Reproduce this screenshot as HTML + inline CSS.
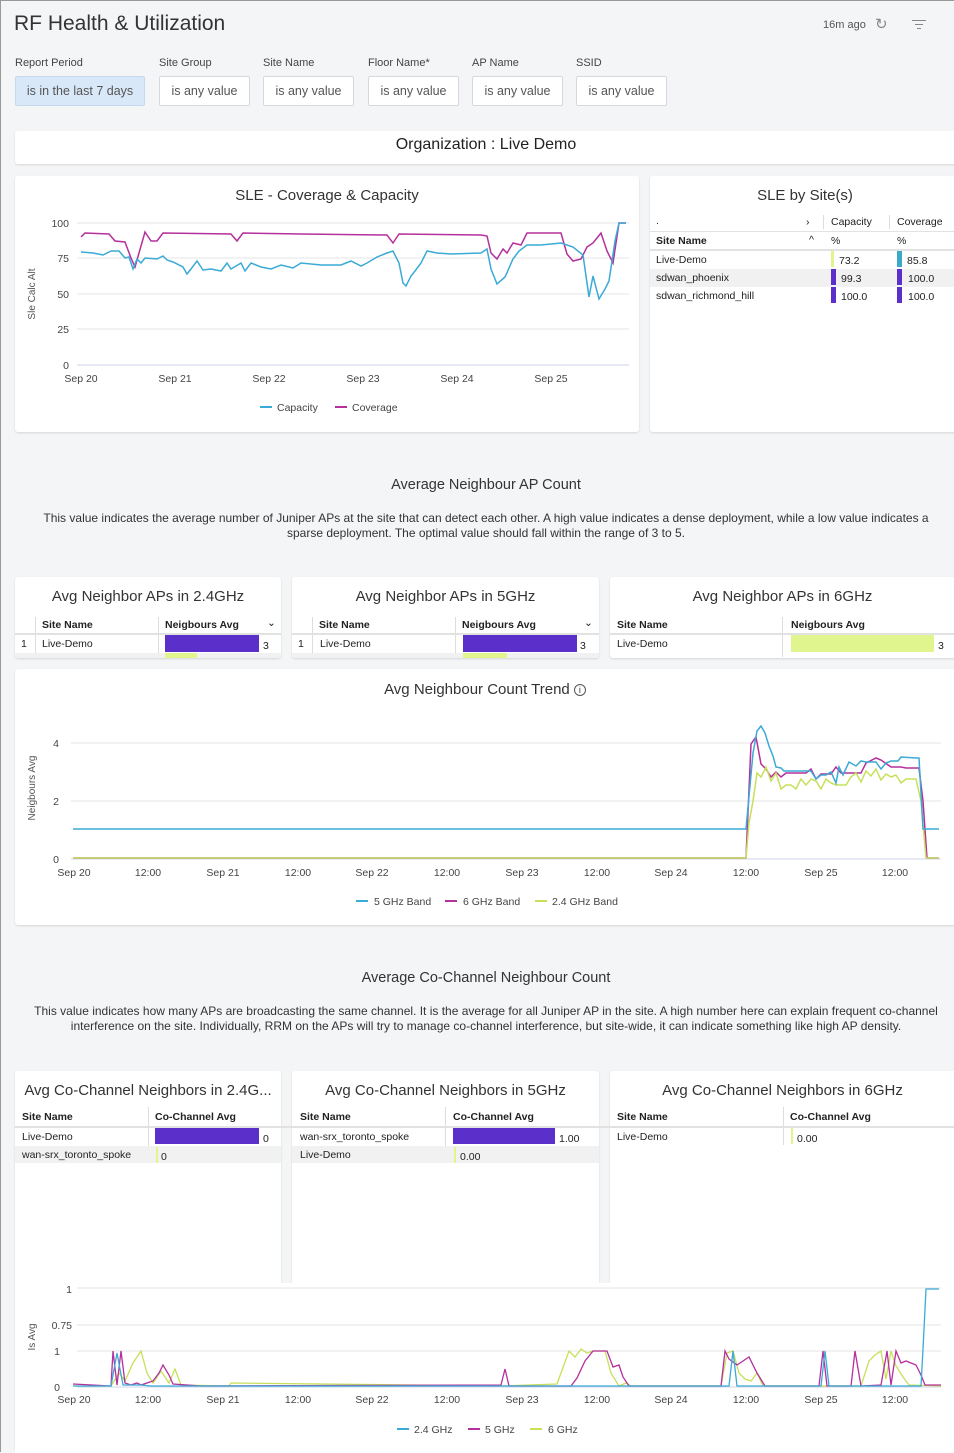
<!DOCTYPE html>
<html><head><meta charset="utf-8"><style>
*{box-sizing:border-box;margin:0;padding:0}
body{width:954px;height:1452px;background:#f4f5f6;font-family:"Liberation Sans",sans-serif;color:#333;position:relative;overflow:hidden;border-left:1px solid #999;border-top:1px solid #999}
.a{position:absolute}
.card{position:absolute;background:#fff;border-radius:3px;box-shadow:0 1px 2px rgba(0,0,0,.12)}
.lbl{position:absolute;font-size:11px;color:#444}
.box{position:absolute;top:75px;height:30px;border:1px solid #d6d8db;background:#fff;border-radius:2px;font-size:12.5px;color:#555;text-align:center;line-height:28px}
.t{position:absolute;text-align:center;font-size:15px;color:#333}
.th{font-size:10.5px;font-weight:bold;color:#222}
.td{font-size:10.5px;color:#222}
svg text{font-family:"Liberation Sans",sans-serif}
</style></head><body>
<div class="a" style="left:13px;top:11px;font-size:21px;color:#333">RF Health &amp; Utilization</div>
<div class="a" style="left:822px;top:18px;font-size:11px;color:#555">16m ago</div>
<div class="a" style="left:874px;top:14px;font-size:15px;color:#888">↻</div>
<div class="a" style="left:911px;top:19px;width:14px;border-top:1.5px solid #888"></div>
<div class="a" style="left:914px;top:23px;width:8px;border-top:1.5px solid #888"></div>
<div class="a" style="left:916px;top:27px;width:4px;border-top:1.5px solid #888"></div>

<div class="lbl" style="left:14px;top:56px">Report Period</div>
<div class="lbl" style="left:158px;top:56px">Site Group</div>
<div class="lbl" style="left:262px;top:56px">Site Name</div>
<div class="lbl" style="left:367px;top:56px">Floor Name*</div>
<div class="lbl" style="left:471px;top:56px">AP Name</div>
<div class="lbl" style="left:575px;top:56px">SSID</div>
<div class="box" style="left:14px;width:130px;background:#d9e8f8;border-color:#c6d8ec">is in the last 7 days</div>
<div class="box" style="left:158px;width:91px">is any value</div>
<div class="box" style="left:262px;width:91px">is any value</div>
<div class="box" style="left:367px;width:91px">is any value</div>
<div class="box" style="left:471px;width:91px">is any value</div>
<div class="box" style="left:575px;width:91px">is any value</div>

<div class="card" style="left:14px;top:130px;width:945px;height:33px"></div>
<div class="t" style="left:14px;top:135px;width:942px;font-size:16px;color:#222">Organization : Live Demo</div>

<!-- SLE chart -->
<div class="card" style="left:14px;top:175px;width:624px;height:256px"></div>
<div class="t" style="left:14px;top:186px;width:624px">SLE - Coverage &amp; Capacity</div>
<svg class="a" style="left:0;top:0" width="954" height="440">
<g stroke="#e6e6e6" stroke-width="1"><line x1="76" x2="628" y1="222" y2="222"/><line x1="76" x2="628" y1="257" y2="257"/><line x1="76" x2="628" y1="293" y2="293"/><line x1="76" x2="628" y1="328" y2="328"/><line x1="76" x2="628" y1="364" y2="364" stroke="#cfd6ea"/></g>
<g font-size="10.5" fill="#444" text-anchor="end"><text x="68" y="226">100</text><text x="68" y="261">75</text><text x="68" y="297">50</text><text x="68" y="332">25</text><text x="68" y="368">0</text></g>
<g font-size="10.5" fill="#444" text-anchor="middle"><text x="80" y="381">Sep 20</text><text x="174" y="381">Sep 21</text><text x="268" y="381">Sep 22</text><text x="362" y="381">Sep 23</text><text x="456" y="381">Sep 24</text><text x="550" y="381">Sep 25</text></g>
<text x="34" y="293" font-size="10" fill="#555" transform="rotate(-90 34 293)" text-anchor="middle">Sle Calc Alt</text>
<polyline fill="none" stroke="#b5309c" stroke-width="1.5" points="80,236 84,232 108,233 114,240 124,241 130,257 134,266 140,245 144,231 150,240 156,240 162,232 230,233 236,240 242,232 300,233 386,234 392,242 398,233 480,234 486,235 490,252 496,258 502,248 506,252 512,242 520,244 526,232 560,232 566,253 572,260 580,258 586,246 592,242 596,237 600,232 606,250 612,262 618,222 625,222"/>
<polyline fill="none" stroke="#3aaad6" stroke-width="1.5" points="80,251 92,252 102,254 110,250 118,250 124,257 128,256 132,268 136,258 140,262 144,257 156,258 162,255 166,259 172,261 182,266 186,273 190,268 196,260 202,269 210,268 220,270 226,262 230,268 240,262 244,270 250,262 260,266 270,268 280,264 292,267 300,262 320,264 340,264 350,260 360,265 366,262 376,256 386,252 392,250 398,262 402,282 405,285 410,275 414,270 420,262 426,250 436,252 450,253 480,252 486,248 490,268 496,283 504,276 512,258 518,250 526,244 540,244 560,242 572,246 582,254 588,296 592,275 598,298 604,288 608,280 614,240 618,222 625,222"/>
<line x1="259" x2="271" y1="406" y2="406" stroke="#3aaad6" stroke-width="2"/><text x="276" y="410" font-size="10.5" fill="#444">Capacity</text>
<line x1="334" x2="346" y1="406" y2="406" stroke="#b5309c" stroke-width="2"/><text x="351" y="410" font-size="10.5" fill="#444">Coverage</text>
</svg>

<!-- SLE by site -->
<div class="card" style="left:649px;top:175px;width:310px;height:256px"></div>
<div class="t" style="left:649px;top:186px;width:310px">SLE by Site(s)</div>
<div class="a td" style="left:655px;top:214px">.</div>
<div class="a th" style="left:805px;top:215px;font-weight:normal">›</div>
<div class="a" style="left:822px;top:214px;height:14px;border-left:1px solid #ddd"></div>
<div class="a" style="left:888px;top:214px;height:14px;border-left:1px solid #ddd"></div>
<div class="a td" style="left:830px;top:215px">Capacity</div>
<div class="a td" style="left:896px;top:215px">Coverage</div>
<div class="a" style="left:649px;top:230px;width:305px;border-top:1px solid #e2e2e2"></div>
<div class="a th" style="left:655px;top:234px">Site Name</div>
<div class="a td" style="left:808px;top:233px">^</div>
<div class="a td" style="left:830px;top:234px">%</div>
<div class="a td" style="left:896px;top:234px">%</div>
<div class="a" style="left:649px;top:248px;width:305px;border-top:2px solid #e2e2e2"></div>
<div class="a" style="left:649px;top:268px;width:305px;height:18px;background:#f1f1f1"></div>
<div class="a td" style="left:655px;top:253px">Live-Demo</div>
<div class="a td" style="left:655px;top:271px">sdwan_phoenix</div>
<div class="a td" style="left:655px;top:289px">sdwan_richmond_hill</div>
<div class="a" style="left:830px;top:250px;width:3px;height:16px;background:#e1f58e"></div><div class="a td" style="left:838px;top:254px">73.2</div>
<div class="a" style="left:830px;top:268px;width:5px;height:16px;background:#5b2fc9"></div><div class="a td" style="left:840px;top:272px">99.3</div>
<div class="a" style="left:830px;top:286px;width:5px;height:16px;background:#5b2fc9"></div><div class="a td" style="left:840px;top:290px">100.0</div>
<div class="a" style="left:896px;top:250px;width:5px;height:16px;background:#3aaac6"></div><div class="a td" style="left:906px;top:254px">85.8</div>
<div class="a" style="left:896px;top:268px;width:5px;height:16px;background:#5b2fc9"></div><div class="a td" style="left:907px;top:272px">100.0</div>
<div class="a" style="left:896px;top:286px;width:5px;height:16px;background:#5b2fc9"></div><div class="a td" style="left:907px;top:290px">100.0</div>

<div class="t" style="left:14px;top:476px;width:942px;font-size:14.5px">Average Neighbour AP Count</div>
<div class="t" style="left:30px;top:510px;width:910px;font-size:12px;line-height:14.5px">This value indicates the average number of Juniper APs at the site that can detect each other. A high value indicates a dense deployment, while a low value indicates a sparse deployment. The optimal value should fall within the range of 3 to 5.</div>

<!-- neighbor cards -->
<div class="card" style="left:14px;top:576px;width:266px;height:81px;overflow:hidden">
 <div class="t" style="left:0;top:11px;width:266px">Avg Neighbor APs in 2.4GHz</div>
 <div class="a" style="left:20px;top:40px;height:40px;border-left:1px solid #ddd"></div>
 <div class="a" style="left:143px;top:40px;height:40px;border-left:1px solid #ddd"></div>
 <div class="a th" style="left:27px;top:42px">Site Name</div><div class="a th" style="left:150px;top:42px">Neigbours Avg</div><div class="a td" style="left:252px;top:40px">⌄</div>
 <div class="a" style="left:0;top:56px;width:266px;border-top:2px solid #e2e2e2"></div>
 <div class="a td" style="left:6px;top:61px">1</div><div class="a td" style="left:27px;top:61px">Live-Demo</div>
 <div class="a" style="left:150px;top:58px;width:94px;height:17px;background:#5b2fc9"></div><div class="a td" style="left:248px;top:63px">3</div>
 <div class="a" style="left:0;top:76px;width:266px;height:6px;background:#f1f1f1"></div>
 <div class="a" style="left:150px;top:76px;width:32px;height:6px;background:#e1f58e"></div>
</div>
<div class="card" style="left:291px;top:576px;width:307px;height:81px;overflow:hidden">
 <div class="t" style="left:0;top:11px;width:307px">Avg Neighbor APs in 5GHz</div>
 <div class="a" style="left:20px;top:40px;height:40px;border-left:1px solid #ddd"></div>
 <div class="a" style="left:163px;top:40px;height:40px;border-left:1px solid #ddd"></div>
 <div class="a th" style="left:27px;top:42px">Site Name</div><div class="a th" style="left:170px;top:42px">Neigbours Avg</div><div class="a td" style="left:292px;top:40px">⌄</div>
 <div class="a" style="left:0;top:56px;width:307px;border-top:2px solid #e2e2e2"></div>
 <div class="a td" style="left:6px;top:61px">1</div><div class="a td" style="left:28px;top:61px">Live-Demo</div>
 <div class="a" style="left:171px;top:58px;width:114px;height:17px;background:#5b2fc9"></div><div class="a td" style="left:288px;top:63px">3</div>
 <div class="a" style="left:0;top:76px;width:307px;height:6px;background:#f1f1f1"></div>
 <div class="a" style="left:171px;top:76px;width:44px;height:6px;background:#e1f58e"></div>
</div>
<div class="card" style="left:609px;top:576px;width:350px;height:81px;overflow:hidden">
 <div class="t" style="left:0;top:11px;width:345px">Avg Neighbor APs in 6GHz</div>
 <div class="a" style="left:172px;top:40px;height:40px;border-left:1px solid #ddd"></div>
 <div class="a th" style="left:7px;top:42px">Site Name</div><div class="a th" style="left:181px;top:42px">Neigbours Avg</div>
 <div class="a" style="left:0;top:56px;width:350px;border-top:2px solid #e2e2e2"></div>
 <div class="a td" style="left:7px;top:61px">Live-Demo</div>
 <div class="a" style="left:181px;top:58px;width:143px;height:17px;background:#e1f58e"></div><div class="a td" style="left:328px;top:63px">3</div>
</div>

<!-- trend -->
<div class="card" style="left:14px;top:668px;width:945px;height:256px"></div>
<div class="t" style="left:14px;top:680px;width:940px">Avg Neighbour Count Trend <span style="display:inline-block;width:12px;height:12px;border:1px solid #555;border-radius:50%;font-size:9px;line-height:10px;vertical-align:1px">i</span></div>
<svg class="a" style="left:0;top:660px" width="954" height="270">
<g transform="translate(0,-660)">
<g stroke="#e6e6e6"><line x1="70" x2="940" y1="742" y2="742"/><line x1="70" x2="940" y1="800" y2="800"/><line x1="70" x2="940" y1="858" y2="858" stroke="#cfd6ea"/></g>
<g font-size="10.5" fill="#444" text-anchor="end"><text x="58" y="746">4</text><text x="58" y="804">2</text><text x="58" y="862">0</text></g>
<g font-size="10.5" fill="#444" text-anchor="middle"><text x="73" y="875">Sep 20</text><text x="147" y="875">12:00</text><text x="222" y="875">Sep 21</text><text x="297" y="875">12:00</text><text x="371" y="875">Sep 22</text><text x="446" y="875">12:00</text><text x="521" y="875">Sep 23</text><text x="596" y="875">12:00</text><text x="670" y="875">Sep 24</text><text x="745" y="875">12:00</text><text x="820" y="875">Sep 25</text><text x="894" y="875">12:00</text></g>
<text x="34" y="787" font-size="10" fill="#555" transform="rotate(-90 34 787)" text-anchor="middle">Neigbours Avg</text>
<polyline fill="none" stroke="#b5309c" stroke-width="1.5" points="72,857 745,857 750,743 755,736 760,763 765,768 770,776 775,771 780,776 785,772 805,772 810,768 815,778 820,773 830,773 835,766 840,772 860,772 865,762 875,757 880,759 890,766 900,766 905,767 918,767 922,800 926,857 938,857"/>
<polyline fill="none" stroke="#c6e05a" stroke-width="1.5" points="72,857 745,857 748,822 752,800 756,772 760,776 765,766 770,780 775,772 780,788 785,784 790,784 795,788 800,778 805,784 810,778 815,780 820,788 825,778 830,782 835,784 840,784 845,784 850,776 855,772 860,781 865,770 870,775 875,768 880,779 885,773 890,776 895,774 900,782 905,778 915,778 920,800 925,857 938,857"/>
<polyline fill="none" stroke="#3aaad6" stroke-width="1.5" points="72,828 745,828 752,752 756,730 760,725 764,732 768,745 772,755 775,766 780,767 783,770 810,770 815,778 820,774 825,774 830,771 835,782 838,766 842,774 848,761 855,765 860,760 865,761 875,761 880,768 885,762 890,760 897,760 900,756 915,757 918,757 922,828 938,828"/>
<line x1="355" x2="367" y1="900" y2="900" stroke="#3aaad6" stroke-width="2"/><text x="373" y="904" font-size="10.5" fill="#444">5 GHz Band</text>
<line x1="444" x2="456" y1="900" y2="900" stroke="#b5309c" stroke-width="2"/><text x="462" y="904" font-size="10.5" fill="#444">6 GHz Band</text>
<line x1="534" x2="546" y1="900" y2="900" stroke="#c6e05a" stroke-width="2"/><text x="551" y="904" font-size="10.5" fill="#444">2.4 GHz Band</text>
</g></svg>

<div class="t" style="left:14px;top:969px;width:942px;font-size:14.5px">Average Co-Channel Neighbour Count</div>
<div class="t" style="left:30px;top:1003px;width:910px;font-size:12px;line-height:14.5px">This value indicates how many APs are broadcasting the same channel. It is the average for all Juniper AP in the site. A high number here can explain frequent co-channel interference on the site. Individually, RRM on the APs will try to manage co-channel interference, but site-wide, it can indicate something like high AP density.</div>

<!-- co-channel cards -->
<div class="card" style="left:14px;top:1070px;width:266px;height:380px"></div>
<div class="card" style="left:291px;top:1070px;width:307px;height:380px"></div>
<div class="card" style="left:609px;top:1070px;width:350px;height:380px"></div>
<div class="a" style="left:14px;top:1282px;width:945px;height:170px;background:#fff"></div>
<div class="t" style="left:14px;top:1081px;width:266px">Avg Co-Channel Neighbors in 2.4G...</div>
<div class="t" style="left:291px;top:1081px;width:307px">Avg Co-Channel Neighbors in 5GHz</div>
<div class="t" style="left:609px;top:1081px;width:345px">Avg Co-Channel Neighbors in 6GHz</div>
<div class="a th" style="left:21px;top:1110px">Site Name</div><div class="a th" style="left:154px;top:1110px">Co-Channel Avg</div>
<div class="a th" style="left:299px;top:1110px">Site Name</div><div class="a th" style="left:452px;top:1110px">Co-Channel Avg</div>
<div class="a th" style="left:616px;top:1110px">Site Name</div><div class="a th" style="left:789px;top:1110px">Co-Channel Avg</div>
<div class="a" style="left:147px;top:1106px;height:56px;border-left:1px solid #ddd"></div>
<div class="a" style="left:444px;top:1106px;height:56px;border-left:1px solid #ddd"></div>
<div class="a" style="left:782px;top:1106px;height:38px;border-left:1px solid #ddd"></div>
<div class="a" style="left:14px;top:1125px;width:945px;border-top:2px solid #e2e2e2"></div>
<div class="a" style="left:14px;top:1145px;width:266px;height:17px;background:#f1f1f1"></div>
<div class="a" style="left:291px;top:1145px;width:307px;height:17px;background:#f1f1f1"></div>
<div class="a td" style="left:21px;top:1130px">Live-Demo</div><div class="a td" style="left:21px;top:1148px">wan-srx_toronto_spoke</div>
<div class="a" style="left:154px;top:1127px;width:104px;height:16px;background:#5b2fc9"></div><div class="a td" style="left:262px;top:1132px">0</div>
<div class="a" style="left:155px;top:1146px;width:2px;height:16px;background:#e1f58e"></div><div class="a td" style="left:160px;top:1150px">0</div>
<div class="a td" style="left:299px;top:1130px">wan-srx_toronto_spoke</div><div class="a td" style="left:299px;top:1148px">Live-Demo</div>
<div class="a" style="left:452px;top:1127px;width:102px;height:16px;background:#5b2fc9"></div><div class="a td" style="left:558px;top:1132px">1.00</div>
<div class="a" style="left:453px;top:1146px;width:2px;height:16px;background:#e1f58e"></div><div class="a td" style="left:459px;top:1150px">0.00</div>
<div class="a td" style="left:616px;top:1130px">Live-Demo</div>
<div class="a" style="left:790px;top:1127px;width:2px;height:16px;background:#e1f58e"></div><div class="a td" style="left:796px;top:1132px">0.00</div>

<svg class="a" style="left:0;top:1270px" width="954" height="182">
<g transform="translate(0,-1270)">
<g stroke="#e6e6e6"><line x1="76" x2="940" y1="1287" y2="1287"/><line x1="76" x2="940" y1="1324" y2="1324"/><line x1="76" x2="940" y1="1350" y2="1350"/><line x1="76" x2="940" y1="1386" y2="1386" stroke="#cfd6ea"/></g>
<g font-size="10.5" fill="#444" text-anchor="end"><text x="71" y="1292">1</text><text x="71" y="1328">0.75</text><text x="59" y="1354">1</text><text x="59" y="1390">0</text></g>
<g font-size="10.5" fill="#444" text-anchor="middle"><text x="73" y="1402">Sep 20</text><text x="147" y="1402">12:00</text><text x="222" y="1402">Sep 21</text><text x="297" y="1402">12:00</text><text x="371" y="1402">Sep 22</text><text x="446" y="1402">12:00</text><text x="521" y="1402">Sep 23</text><text x="596" y="1402">12:00</text><text x="670" y="1402">Sep 24</text><text x="745" y="1402">12:00</text><text x="820" y="1402">Sep 25</text><text x="894" y="1402">12:00</text></g>
<text x="34" y="1336" font-size="10" fill="#555" transform="rotate(-90 34 1336)" text-anchor="middle">Is Avg</text>
<polyline fill="none" stroke="#c6e05a" stroke-width="1.3" points="72,1385 110,1385 118,1372 124,1380 132,1362 140,1350 146,1372 152,1382 160,1370 168,1382 174,1368 180,1384 228,1385 230,1382 500,1385 556,1383 568,1350 574,1356 580,1348 586,1352 592,1350 604,1350 610,1372 618,1385 625,1382 630,1385 720,1385 726,1352 732,1350 738,1372 744,1378 750,1380 756,1372 762,1385 860,1385 868,1360 874,1354 880,1350 885,1378 890,1350 895,1365 902,1376 908,1384 940,1385"/>
<polyline fill="none" stroke="#b5309c" stroke-width="1.3" points="72,1383 110,1385 112,1350 116,1384 120,1350 124,1382 130,1384 136,1382 140,1384 146,1382 152,1380 158,1372 162,1364 168,1374 172,1383 200,1385 500,1384 504,1368 508,1385 570,1385 576,1377 584,1360 592,1350 606,1350 612,1366 618,1364 622,1376 628,1385 720,1385 724,1350 728,1358 736,1364 742,1360 748,1356 756,1372 764,1385 818,1385 822,1350 826,1385 850,1385 854,1350 860,1385 880,1384 886,1350 890,1384 895,1350 900,1362 905,1360 915,1364 920,1374 924,1384 940,1384"/>
<polyline fill="none" stroke="#3aaad6" stroke-width="1.3" points="72,1385 110,1385 116,1352 122,1384 140,1384 150,1385 728,1385 732,1350 736,1385 820,1385 824,1350 828,1385 920,1385 922,1348 925,1288 938,1288"/>
<line x1="396" x2="408" y1="1428" y2="1428" stroke="#3aaad6" stroke-width="2"/><text x="413" y="1432" font-size="10.5" fill="#444">2.4 GHz</text>
<line x1="467" x2="479" y1="1428" y2="1428" stroke="#b5309c" stroke-width="2"/><text x="484" y="1432" font-size="10.5" fill="#444">5 GHz</text>
<line x1="529" x2="541" y1="1428" y2="1428" stroke="#c6e05a" stroke-width="2"/><text x="547" y="1432" font-size="10.5" fill="#444">6 GHz</text>
</g></svg>
</body></html>
